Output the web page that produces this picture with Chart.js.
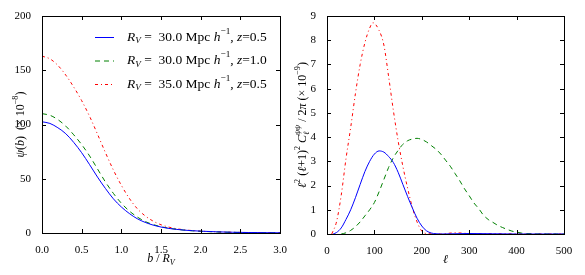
<!DOCTYPE html>
<html>
<head>
<meta charset="utf-8">
<script src="https://cdn.jsdelivr.net/npm/chart.js@4"></script>
<style>
  body { margin: 0; background: #fff; }
  #wrap { position: relative; width: 585px; height: 275px; }
  canvas { position: absolute; top: 0; }
</style>
</head>
<body>
<div id="wrap">
  <canvas id="psiChart" width="290" height="275" style="left:0;width:290px;height:275px"></canvas>
  <canvas id="clChart" width="295" height="275" style="left:290px;width:295px;height:275px"></canvas>
</div>
<script>
// left panel: psi(b) vs b / R_V  (x 10^-8)
const bValues = [0, 0.1, 0.2, 0.3, 0.4, 0.5, 0.6, 0.7, 0.8, 0.9, 1.0, 1.1, 1.2, 1.3, 1.4, 1.5, 1.6, 1.7, 1.8, 1.9, 2.0, 2.2, 2.4, 2.6, 2.8, 3.0];
const psiBlue  = [102.5, 101, 97, 91.5, 83.5, 74, 63, 51.5, 41, 31.5, 24, 18, 13.2, 9.8, 7.3, 5.5, 4.2, 3.3, 2.6, 2.1, 1.7, 1.1, 0.7, 0.45, 0.3, 0.2];
const psiGreen = [110, 108.5, 104.5, 98.5, 90.5, 81.5, 71, 59, 47, 36.5, 27.5, 20.3, 14.8, 10.6, 7.8, 5.8, 4.4, 3.4, 2.6, 2.0, 1.6, 1.0, 0.6, 0.4, 0.25, 0.15];
const psiRed   = [163, 160.5, 154.5, 145.5, 134.5, 122, 107.5, 91, 74, 58, 44, 32, 22.5, 15.8, 11, 7.6, 5.4, 3.9, 2.9, 2.2, 1.7, 1.1, 0.7, 0.45, 0.3, 0.2];

// right panel: l^2 (l+1)^2 C_l / 2pi  (x 10^-9)
const ellBlue = [13, 20, 30, 40, 50, 60, 70, 80, 90, 100, 110, 120, 130, 140, 150, 160, 170, 180, 190, 200, 210, 220, 230, 240, 300, 400, 500];
const clBlue  = [0, 0.06, 0.25, 0.6, 1.0, 1.5, 2.05, 2.58, 3.0, 3.3, 3.43, 3.38, 3.2, 2.95, 2.55, 2.05, 1.55, 1.08, 0.65, 0.33, 0.13, 0.04, 0.01, 0, 0.02, 0, 0];
const ellGreen = [30, 40, 50, 60, 70, 80, 90, 100, 110, 120, 130, 140, 150, 160, 170, 180, 190, 200, 210, 220, 230, 240, 250, 260, 270, 280, 290, 300, 310, 320, 330, 340, 350, 360, 370, 380, 390, 400, 410, 420, 450, 500];
const clGreen  = [0, 0.05, 0.15, 0.3, 0.5, 0.75, 1.0, 1.3, 1.75, 2.25, 2.75, 3.15, 3.45, 3.7, 3.85, 3.92, 3.95, 3.9, 3.8, 3.65, 3.5, 3.3, 3.05, 2.8, 2.5, 2.2, 1.87, 1.58, 1.28, 1.05, 0.78, 0.6, 0.48, 0.36, 0.27, 0.19, 0.12, 0.08, 0.04, 0.02, 0, 0];
const ellRed = [10, 20, 30, 40, 50, 60, 70, 80, 90, 97, 110, 120, 130, 140, 150, 160, 170, 180, 190, 200, 210, 240, 270, 300, 350, 500];
const clRed  = [0, 0.5, 1.6, 3.1, 4.4, 5.8, 7.0, 7.9, 8.5, 8.72, 8.4, 7.8, 6.5, 5.1, 3.85, 2.8, 1.9, 1.1, 0.5, 0.12, 0.02, 0, 0.05, 0.02, 0.01, 0];

const psiTicks = [0, 50, 100, 150, 200];
const bTicks = [0, 0.5, 1.0, 1.5, 2.0, 2.5, 3.0];
const clTicks = [0, 1, 2, 3, 4, 5, 6, 7, 8, 9];
const ellTicks = [0, 100, 200, 300, 400, 500];

const legendLabels = [
  ['30.0', '0.5'],
  ['30.0', '1.0'],
  ['35.0', '0.5'],
];

const SERIF = '"Liberation Serif", "Times New Roman", serif';
const styles = [
  { color: '#0000ff', dash: [] },
  { color: '#008000', dash: [5, 4] },
  { color: '#ff0000', dash: [3, 3, 1, 3] },
];

function pts(xs, ys) {
  return xs.map((x, i) => ({ x: x, y: ys[i] }));
}

function dataset(xs, ys, k) {
  return {
    data: pts(xs, ys),
    borderColor: styles[k].color,
    borderDash: styles[k].dash,
    borderWidth: 1,
    pointRadius: 0,
    cubicInterpolationMode: 'monotone',
    fill: false,
  };
}

// rich text: segments {t, i (italic), sub, sup} or {stack: [sup, sub]}
function segFont(size, seg, small) {
  return (seg.i ? 'italic ' : '') + (small ? size * 0.68 : size) + 'px ' + SERIF;
}
function segWidth(ctx, size, seg) {
  if (seg.stack) {
    ctx.font = segFont(size, { i: true }, true);
    return Math.max(ctx.measureText(seg.stack[0]).width, ctx.measureText(seg.stack[1]).width);
  }
  ctx.font = segFont(size, seg, seg.sub || seg.sup);
  return ctx.measureText(seg.t).width;
}
function drawRich(ctx, segs, x, y, size, align) {
  let total = 0;
  segs.forEach(s => { total += segWidth(ctx, size, s); });
  let cx = align === 'center' ? x - total / 2 : x;
  ctx.textBaseline = 'middle';
  ctx.textAlign = 'left';
  ctx.fillStyle = '#000';
  segs.forEach(s => {
    const w = segWidth(ctx, size, s);
    if (s.stack) {
      ctx.font = segFont(size, { i: true }, true);
      ctx.fillText(s.stack[0], cx, y - size * 0.42);
      ctx.fillText(s.stack[1], cx, y + size * 0.28);
    } else {
      ctx.font = segFont(size, s, s.sub || s.sup);
      const dy = s.sub ? size * 0.28 : (s.sup ? -size * 0.42 : 0);
      ctx.fillText(s.t, cx, y + dy);
    }
    cx += w;
  });
}

// frame and inward ticks on all four sides
const framePlugin = {
  id: 'frame',
  afterDraw(chart, args, opts) {
    const ctx = chart.ctx;
    const a = chart.chartArea;
    const xs = chart.scales.x, ys = chart.scales.y;
    ctx.save();
    ctx.strokeStyle = '#000';
    ctx.lineWidth = 1;
    ctx.strokeRect(Math.round(a.left) + 0.5, Math.round(a.top) + 0.5, Math.round(a.right - a.left), Math.round(a.bottom - a.top));
    ctx.beginPath();
    xs.ticks.forEach(t => {
      const px = Math.round(xs.getPixelForValue(t.value)) + 0.5;
      ctx.moveTo(px, a.bottom); ctx.lineTo(px, a.bottom - 4);
      ctx.moveTo(px, a.top); ctx.lineTo(px, a.top + 4);
    });
    ys.ticks.forEach(t => {
      const py = Math.round(ys.getPixelForValue(t.value)) + 0.5;
      ctx.moveTo(a.left, py); ctx.lineTo(a.left + 4, py);
      ctx.moveTo(a.right, py); ctx.lineTo(a.right - 4, py);
    });
    ctx.stroke();

    // axis titles
    const t = opts.titles;
    drawRich(ctx, t.x, (a.left + a.right) / 2, a.bottom + 26, 12, 'center');
    ctx.save();
    ctx.translate(t.yPos, (a.top + a.bottom) / 2);
    ctx.rotate(-Math.PI / 2);
    drawRich(ctx, t.y, 0, 0, 12, 'center');
    ctx.restore();

    // legend
    if (opts.legend) {
      chart.data.datasets.forEach((d, k) => {
        const ly = 37 + k * 23.5;
        ctx.beginPath();
        ctx.strokeStyle = d.borderColor;
        ctx.setLineDash(d.borderDash);
        ctx.moveTo(95, ly + 0.5); ctx.lineTo(114, ly + 0.5);
        ctx.stroke();
        ctx.setLineDash([]);
        const lab = legendLabels[k];
        drawRich(ctx, [
          { t: 'R', i: true }, { t: 'V', i: true, sub: true }, { t: ' =  ' + lab[0] + ' Mpc ' },
          { t: 'h', i: true }, { t: '\u22121', sup: true }, { t: ', ' },
          { t: 'z', i: true }, { t: '=' + lab[1] },
        ], 127, ly, 13.5, 'left');
      });
    }
    ctx.restore();
  }
};

function axisOpts(ticksList, min, max, fmt, size) {
  return {
    type: 'linear',
    min: min,
    max: max,
    grid: { display: false },
    border: { display: false },
    afterBuildTicks: s => { s.ticks = ticksList.map(v => ({ value: v })); },
    ticks: {
      color: '#000',
      font: { family: SERIF, size: 11 },
      padding: 3,
      maxRotation: 0,
      callback: fmt,
    },
    afterFit: s => {
      if (s.axis === 'x') s.height = size; else s.width = size;
    },
  };
}

new Chart(document.getElementById('psiChart'), {
  type: 'line',
  data: {
    datasets: [
      dataset(bValues, psiBlue, 0),
      dataset(bValues, psiGreen, 1),
      dataset(bValues, psiRed, 2),
    ],
  },
  options: {
    responsive: false,
    animation: false,
    layout: { padding: { top: 16, right: 10, left: 0, bottom: 0 } },
    scales: {
      x: axisOpts(bTicks, 0, 3, v => v.toFixed(1), 42),
      y: axisOpts(psiTicks, 0, 200, v => String(v), 42),
    },
    plugins: {
      legend: { display: false },
      tooltip: { enabled: false },
      frame: {
        legend: true,
        titles: {
          yPos: 21,
          x: [{ t: 'b', i: true }, { t: ' / ' }, { t: 'R', i: true }, { t: 'V', i: true, sub: true }],
          y: [{ t: '\u03c8', i: true }, { t: '(' }, { t: 'b', i: true }, { t: ')  (\u00d7 10' }, { t: '\u22128', sup: true }, { t: ')' }],
        },
      },
    },
  },
  plugins: [framePlugin],
});

new Chart(document.getElementById('clChart'), {
  type: 'line',
  data: {
    datasets: [
      dataset(ellBlue, clBlue, 0),
      dataset(ellGreen, clGreen, 1),
      dataset(ellRed, clRed, 2),
    ],
  },
  options: {
    responsive: false,
    animation: false,
    layout: { padding: { top: 16, right: 21, left: 0, bottom: 0 } },
    scales: {
      x: axisOpts(ellTicks, 0, 500, v => String(v), 41),
      y: axisOpts(clTicks, 0, 9, v => String(v), 37),
    },
    plugins: {
      legend: { display: false },
      tooltip: { enabled: false },
      frame: {
        legend: false,
        titles: {
          yPos: 13,
          x: [{ t: '\u2113', i: true }],
          y: [
            { t: '\u2113', i: true }, { t: '2', sup: true }, { t: ' (' }, { t: '\u2113', i: true }, { t: '+1)' },
            { t: '2', sup: true }, { t: ' ' }, { t: 'C', i: true }, { stack: ['\u03c8\u03c8', '\u2113'] },
            { t: ' / 2' }, { t: '\u03c0', i: true }, { t: ' (\u00d7 10' }, { t: '\u22129', sup: true }, { t: ')' },
          ],
        },
      },
    },
  },
  plugins: [framePlugin],
});
</script>
</body>
</html>
